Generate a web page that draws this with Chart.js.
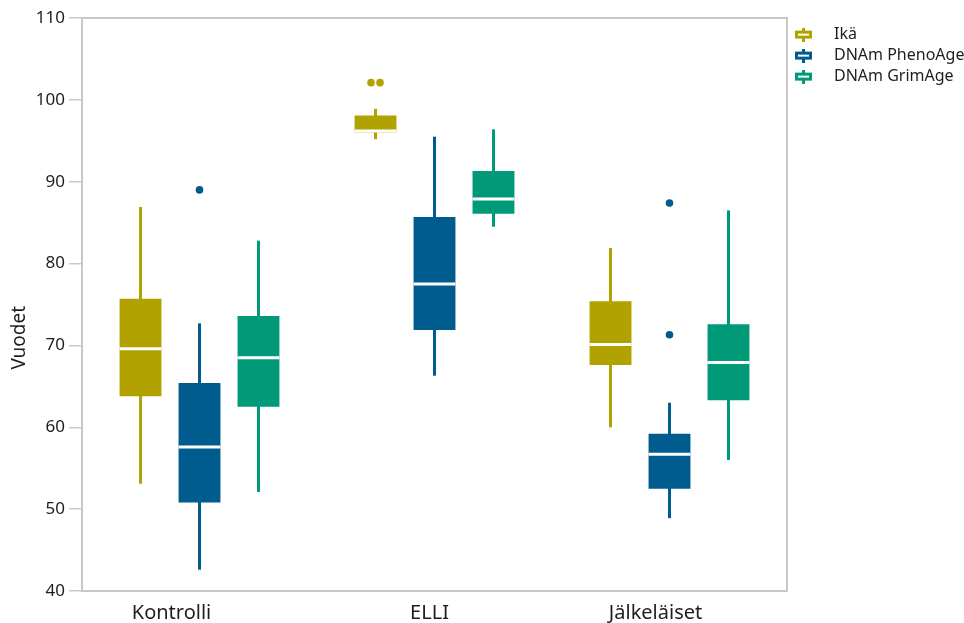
<!DOCTYPE html>
<html>
<head>
<meta charset="utf-8">
<script src="https://cdn.jsdelivr.net/npm/chart.js@4.4.0/dist/chart.umd.min.js"></script>
<style>
html,body{margin:0;padding:0;background:#fff;}
#wrap{width:964px;height:623px;position:relative;}
</style>
</head>
<body>
<div id="wrap"><canvas id="c"></canvas></div>
<script>
// ---- data ----
const categories = ['Kontrolli', 'ELLI', 'Jälkeläiset'];
const seriesNames = ['Ikä', 'DNAm PhenoAge', 'DNAm GrimAge'];
// [min, q1, median, q3, max] per category
const ikaStats   = [[53.1, 63.8, 69.6, 75.7, 86.9], [95.2, 96.0, 96.2, 98.1, 98.9], [60.0, 67.6, 70.1, 75.4, 81.9]];
const phenoStats = [[42.6, 50.8, 57.6, 65.4, 72.7], [66.3, 71.9, 77.5, 85.7, 95.5], [48.9, 52.5, 56.7, 59.2, 63.0]];
const grimStats  = [[52.1, 62.5, 68.5, 73.6, 82.8], [84.5, 86.1, 87.9, 91.3, 96.4], [56.0, 63.3, 67.9, 72.6, 86.5]];
const ikaOutliers   = [[], [102.1, 102.1], []];
const phenoOutliers = [[89.0], [], [87.4, 71.3]];
const grimOutliers  = [[], [], []];
const yTicks = [40, 50, 60, 70, 80, 90, 100, 110];

// ---- style ----
const colors = ['#B1A200', '#005C8E', '#009A78'];
const gridGrey = '#c8c8c8';
const textColor = '#1e1e1e';
const labelShift = [-28, -5, -14];
const FONT = '"Noto Sans", "Open Sans", sans-serif';

const allStats = [ikaStats, phenoStats, grimStats];
const allOutliers = [ikaOutliers, phenoOutliers, grimOutliers];

function makeIcon(color) {
  const c = document.createElement('canvas');
  c.width = 34; c.height = 14;
  const g = c.getContext('2d');
  g.fillStyle = color;
  g.fillRect(10, 0, 3, 14);
  g.fillRect(3, 3, 17, 8);
  g.fillStyle = '#ffffff';
  g.fillRect(6, 6, 11, 2);
  return c;
}
const icons = colors.map(makeIcon);

const datasets = seriesNames.map((name, i) => ({
  label: name,
  data: allStats[i].map(s => [s[1], s[3]]),
  stats: allStats[i],
  outliers: allOutliers[i],
  backgroundColor: colors[i],
  borderWidth: 0,
  borderSkipped: false,
  categoryPercentage: 0.753,
  barPercentage: 0.71
}));

const boxPlugin = {
  id: 'boxParts',
  beforeDatasetsDraw(chart) {
    const ctx = chart.ctx, ca = chart.chartArea, y = chart.scales.y;
    ctx.save();
    ctx.strokeStyle = gridGrey; ctx.lineWidth = 2;
    ctx.strokeRect(ca.left, ca.top, ca.right - ca.left, ca.bottom - ca.top);
    ctx.restore();
    chart.data.datasets.forEach((ds, di) => {
      const meta = chart.getDatasetMeta(di);
      meta.data.forEach((bar, i) => {
        const s = ds.stats[i];
        ctx.save();
        ctx.strokeStyle = ds.backgroundColor; ctx.lineWidth = 3; ctx.lineCap = 'butt';
        ctx.beginPath();
        ctx.moveTo(bar.x, y.getPixelForValue(s[0]));
        ctx.lineTo(bar.x, y.getPixelForValue(s[4]));
        ctx.stroke();
        ctx.restore();
      });
    });
  },
  afterDatasetsDraw(chart) {
    const ctx = chart.ctx, y = chart.scales.y;
    chart.data.datasets.forEach((ds, di) => {
      const meta = chart.getDatasetMeta(di);
      meta.data.forEach((bar, i) => {
        const s = ds.stats[i];
        const my = y.getPixelForValue(s[2]);
        ctx.save();
        ctx.strokeStyle = '#ffffff'; ctx.lineWidth = 3;
        ctx.beginPath();
        ctx.moveTo(bar.x - bar.width / 2, my);
        ctx.lineTo(bar.x + bar.width / 2, my);
        ctx.stroke();
        const outs = ds.outliers[i];
        const groups = {};
        outs.forEach(v => { (groups[v] = groups[v] || []).push(v); });
        ctx.fillStyle = ds.backgroundColor;
        Object.keys(groups).forEach(k => {
          const g = groups[k];
          g.forEach((v, j) => {
            const dx = (j - (g.length - 1) / 2) * 9;
            ctx.beginPath();
            ctx.arc(bar.x + dx, y.getPixelForValue(v), 3.8, 0, Math.PI * 2);
            ctx.fill();
          });
        });
        ctx.restore();
      });
    });
  },
  afterDraw(chart) {
    const ctx = chart.ctx, ca = chart.chartArea, x = chart.scales.x;
    ctx.save();
    ctx.fillStyle = textColor;
    ctx.font = '20px ' + FONT;
    ctx.textAlign = 'center'; ctx.textBaseline = 'middle';
    categories.forEach((c, i) => {
      ctx.fillText(c, x.getPixelForValue(i) + labelShift[i], ca.bottom + 22);
    });
    ctx.translate(20, ca.top + (ca.bottom - ca.top) * 0.558);
    ctx.rotate(-Math.PI / 2);
    ctx.font = '19px ' + FONT;
    ctx.fillText('Vuodet', 0, 0);
    ctx.restore();
  }
};

new Chart(document.getElementById('c'), {
  type: 'bar',
  data: { labels: categories, datasets: datasets },
  options: {
    responsive: true,
    maintainAspectRatio: false,
    animation: false,
    layout: { padding: { top: 18, left: 0, right: 0, bottom: 0 } },
    plugins: {
      tooltip: { enabled: false },
      legend: {
        position: 'right',
        align: 'start',
        maxWidth: 177,
        title: { display: true, text: '', font: { size: 3 }, padding: 0 },
        labels: {
          usePointStyle: true,
          pointStyleWidth: 34,
          padding: 5,
          color: textColor,
          font: { family: FONT, size: 16 },
          generateLabels: () => seriesNames.map((n, i) => ({
            text: n, pointStyle: icons[i], fillStyle: colors[i], strokeStyle: colors[i],
            lineWidth: 0, hidden: false, datasetIndex: i, fontColor: textColor
          }))
        }
      }
    },
    scales: {
      x: {
        type: 'category',
        grid: { display: false },
        border: { display: true, color: gridGrey, width: 2 },
        ticks: { display: false },
        afterFit: s => { s.height = 32; }
      },
      y: {
        min: 40, max: 110,
        afterBuildTicks: s => { s.ticks = yTicks.map(v => ({ value: v })); },
        grid: { display: true, drawOnChartArea: false, drawTicks: true, tickLength: 13, color: gridGrey, lineWidth: 1.5 },
        border: { display: true, color: gridGrey, width: 2 },
        ticks: { padding: 4, color: textColor, font: { family: FONT, size: 17 } },
        afterFit: s => { s.width = 82; }
      }
    }
  },
  plugins: [boxPlugin]
});
</script>
</body>
</html>
